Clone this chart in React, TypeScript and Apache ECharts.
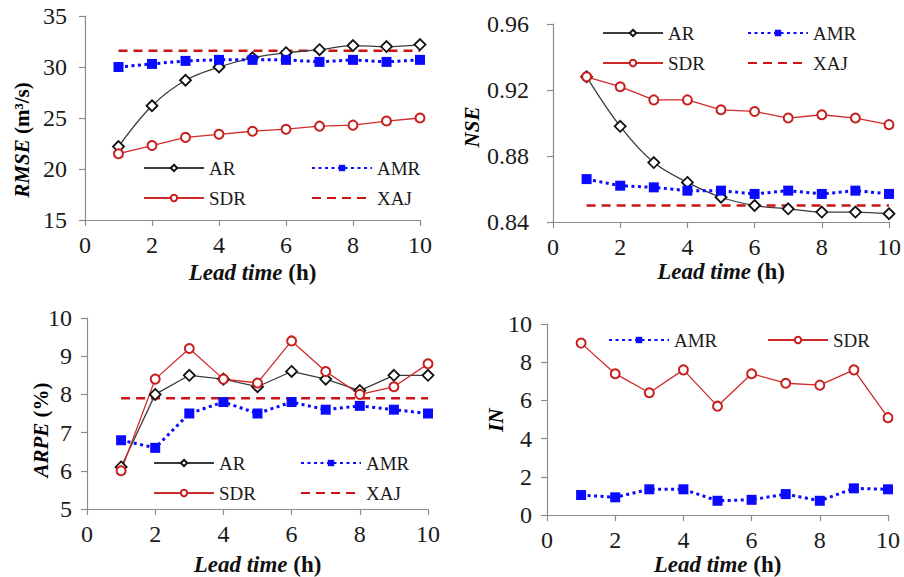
import React, { useEffect, useRef } from "react";
import * as echarts from "echarts";

const leadTimes = [1, 2, 3, 4, 5, 6, 7, 8, 9, 10];

const rmseAR = [22.2, 26.2, 28.7, 30.0, 30.9, 31.4, 31.7, 32.1, 32.0, 32.2];
const rmseAMR = [30.0, 30.3, 30.6, 30.7, 30.7, 30.7, 30.5, 30.7, 30.5, 30.7];
const rmseSDR = [21.5, 22.3, 23.1, 23.4, 23.7, 23.9, 24.2, 24.3, 24.7, 25.0];
const rmseXAJ = [31.6, 31.6, 31.6, 31.6, 31.6, 31.6, 31.6, 31.6, 31.6, 31.6];

const nseAR = [0.928, 0.898, 0.876, 0.864, 0.855, 0.85, 0.848, 0.846, 0.846, 0.845];
const nseAMR = [0.866, 0.862, 0.861, 0.859, 0.859, 0.857, 0.859, 0.857, 0.859, 0.857];
const nseSDR = [0.928, 0.922, 0.914, 0.914, 0.908, 0.907, 0.903, 0.905, 0.903, 0.899];
const nseXAJ = [0.85, 0.85, 0.85, 0.85, 0.85, 0.85, 0.85, 0.85, 0.85, 0.85];

const arpeAR = [6.1, 8.0, 8.5, 8.4, 8.2, 8.6, 8.4, 8.1, 8.5, 8.5];
const arpeAMR = [6.8, 6.6, 7.5, 7.8, 7.5, 7.8, 7.6, 7.7, 7.6, 7.5];
const arpeSDR = [6.0, 8.4, 9.2, 8.4, 8.3, 9.4, 8.6, 8.0, 8.2, 8.8];
const arpeXAJ = [7.9, 7.9, 7.9, 7.9, 7.9, 7.9, 7.9, 7.9, 7.9, 7.9];

const inAMR = [1.05, 0.93, 1.35, 1.35, 0.75, 0.8, 1.1, 0.75, 1.4, 1.35];
const inSDR = [9.0, 7.4, 6.4, 7.6, 5.7, 7.4, 6.9, 6.8, 7.6, 5.1];

const xTicks = { min: 0, max: 10, interval: 2 };
const yRanges = [
  { min: 15, max: 35, interval: 5, digits: 0 },
  { min: 0.84, max: 0.96, interval: 0.04, digits: 2 },
  { min: 5, max: 10, interval: 1, digits: 0 },
  { min: 0, max: 10, interval: 2, digits: 0 },
];

const FONT = "Liberation Serif";
const AXIS_GRAY = "#8c8c8c";

const pts = (ys: number[]) => leadTimes.map((x, i) => [x, ys[i]]);

function arSeries(ys: number[], gi: number, smooth: boolean) {
  return {
    name: "AR",
    type: "line",
    xAxisIndex: gi,
    yAxisIndex: gi,
    data: pts(ys),
    smooth: smooth ? 0.35 : false,
    symbol: "diamond",
    symbolSize: 11,
    lineStyle: { color: "#3c3c3c", width: 1.3 },
    itemStyle: { color: "#ffffff", borderColor: "#111111", borderWidth: 1.8 },
    z: 3,
  };
}
function amrSeries(ys: number[], gi: number) {
  return {
    name: "AMR",
    type: "line",
    xAxisIndex: gi,
    yAxisIndex: gi,
    data: pts(ys),
    symbol: "rect",
    symbolSize: 10,
    lineStyle: { color: "#0a0aff", width: 3, type: [3, 3.5] },
    itemStyle: { color: "#0a0aff" },
    z: 4,
  };
}
function sdrSeries(ys: number[], gi: number) {
  return {
    name: "SDR",
    type: "line",
    xAxisIndex: gi,
    yAxisIndex: gi,
    data: pts(ys),
    symbol: "circle",
    symbolSize: 9,
    lineStyle: { color: "#d22a2a", width: 1.3 },
    itemStyle: { color: "#ffffff", borderColor: "#c81e1e", borderWidth: 2 },
    z: 3,
  };
}
function xajSeries(ys: number[], gi: number) {
  return {
    name: "XAJ",
    type: "line",
    xAxisIndex: gi,
    yAxisIndex: gi,
    data: pts(ys),
    symbol: "none",
    lineStyle: { color: "#cc1414", width: 2.5, type: [9, 6] },
    itemStyle: { color: "#cc1414" },
    z: 2,
  };
}

const grids = [
  { left: 85, top: 16, width: 335, height: 204 },
  { left: 553, top: 24, width: 341, height: 198 },
  { left: 87, top: 318, width: 341, height: 195 },
  { left: 547, top: 324, width: 341, height: 193 },
];
const xNameGaps = [41, 37, 44, 36];
const yLabelMargins = [18, 24, 15, 15];

const legendSpecs = [
  { name: "AR", left: 143, cy: 168 },
  { name: "SDR", left: 143, cy: 198 },
  { name: "AMR", left: 311, cy: 168 },
  { name: "XAJ", left: 311, cy: 198 },
  { name: "AR", left: 602, cy: 33 },
  { name: "SDR", left: 602, cy: 63 },
  { name: "AMR", left: 747, cy: 33 },
  { name: "XAJ", left: 747, cy: 63 },
  { name: "AR", left: 153, cy: 463 },
  { name: "SDR", left: 153, cy: 493 },
  { name: "AMR", left: 300, cy: 463 },
  { name: "XAJ", left: 300, cy: 493 },
  { name: "AMR", left: 608, cy: 340 },
  { name: "SDR", left: 767, cy: 340 },
];

const yTitles = [
  { x: 22, y: 140, parts: "{bi|RMSE}{b| (m³/s)}" },
  { x: 472, y: 127, parts: "{bi|NSE}" },
  { x: 41, y: 430, parts: "{bi|ARPE}{b| (%)}" },
  { x: 496, y: 420, parts: "{bi|IN}" },
];

export default function App() {
  const ref = useRef<HTMLDivElement>(null);
  useEffect(() => {
    if (!ref.current) return;
    const chart = echarts.init(ref.current, undefined, { renderer: "svg" });
    const richTitle = {
      bi: { fontFamily: FONT, fontStyle: "italic", fontWeight: "bold", fontSize: 23, color: "#111" },
      b: { fontFamily: FONT, fontWeight: "bold", fontSize: 23, color: "#111" },
    };
    const richY = {
      bi: { fontFamily: FONT, fontStyle: "italic", fontWeight: "bold", fontSize: 21, color: "#111" },
      b: { fontFamily: FONT, fontWeight: "bold", fontSize: 21, color: "#111" },
    };
    const option: any = {
      animation: false,
      backgroundColor: "#ffffff",
      textStyle: { fontFamily: FONT },
      grid: grids.map((g) => ({ ...g, containLabel: false })),
      xAxis: grids.map((_, i) => ({
        type: "value",
        gridIndex: i,
        min: xTicks.min,
        max: xTicks.max,
        interval: xTicks.interval,
        name: "{bi|Lead time}{b| (h)}",
        nameLocation: "middle",
        nameGap: xNameGaps[i],
        nameTextStyle: { fontFamily: FONT, rich: richTitle },
        splitLine: { show: false },
        axisLine: { lineStyle: { color: AXIS_GRAY, width: 1.2 } },
        axisTick: { show: true, length: 6, lineStyle: { color: AXIS_GRAY, width: 1.2 } },
        axisLabel: { fontFamily: FONT, fontSize: 24, color: "#1a1a1a", margin: 13 },
      })),
      yAxis: yRanges.map((r, i) => ({
        type: "value",
        gridIndex: i,
        min: r.min,
        max: r.max,
        interval: r.interval,
        splitLine: { show: false },
        axisLine: { show: true, lineStyle: { color: AXIS_GRAY, width: 1.2 } },
        axisTick: { show: true, length: 6, lineStyle: { color: AXIS_GRAY, width: 1.2 } },
        axisLabel: {
          fontFamily: FONT,
          fontSize: 24,
          color: "#1a1a1a",
          margin: yLabelMargins[i],
          formatter: (v: number) => v.toFixed(r.digits),
        },
      })),
      legend: legendSpecs.map((l) => {
        const lg: any = {
          data: [l.name],
          left: l.left,
          top: l.cy - 10,
          padding: 0,
          itemWidth: 60,
          itemHeight: 8,
          selectedMode: false,
          textStyle: { fontFamily: FONT, fontSize: 19, color: "#1a1a1a", lineHeight: 20 },
        };
        if (l.name === "XAJ") lg.itemStyle = { opacity: 0 };
        return lg;
      }),
      graphic: yTitles.map((t) => ({
        type: "text",
        x: t.x,
        y: t.y,
        rotation: Math.PI / 2,
        style: {
          text: t.parts,
          rich: richY,
          fontFamily: FONT,
          align: "center",
          verticalAlign: "middle",
        },
      })),
      series: [
        arSeries(rmseAR, 0, true),
        amrSeries(rmseAMR, 0),
        sdrSeries(rmseSDR, 0),
        xajSeries(rmseXAJ, 0),
        arSeries(nseAR, 1, true),
        amrSeries(nseAMR, 1),
        sdrSeries(nseSDR, 1),
        xajSeries(nseXAJ, 1),
        arSeries(arpeAR, 2, false),
        amrSeries(arpeAMR, 2),
        sdrSeries(arpeSDR, 2),
        xajSeries(arpeXAJ, 2),
        amrSeries(inAMR, 3),
        sdrSeries(inSDR, 3),
      ],
    };
    chart.setOption(option);
    return () => chart.dispose();
  }, []);
  return (
    <div
      ref={ref}
      style={{ position: "fixed", left: 0, top: 0, width: 904, height: 577, background: "#fff" }}
    />
  );
}
